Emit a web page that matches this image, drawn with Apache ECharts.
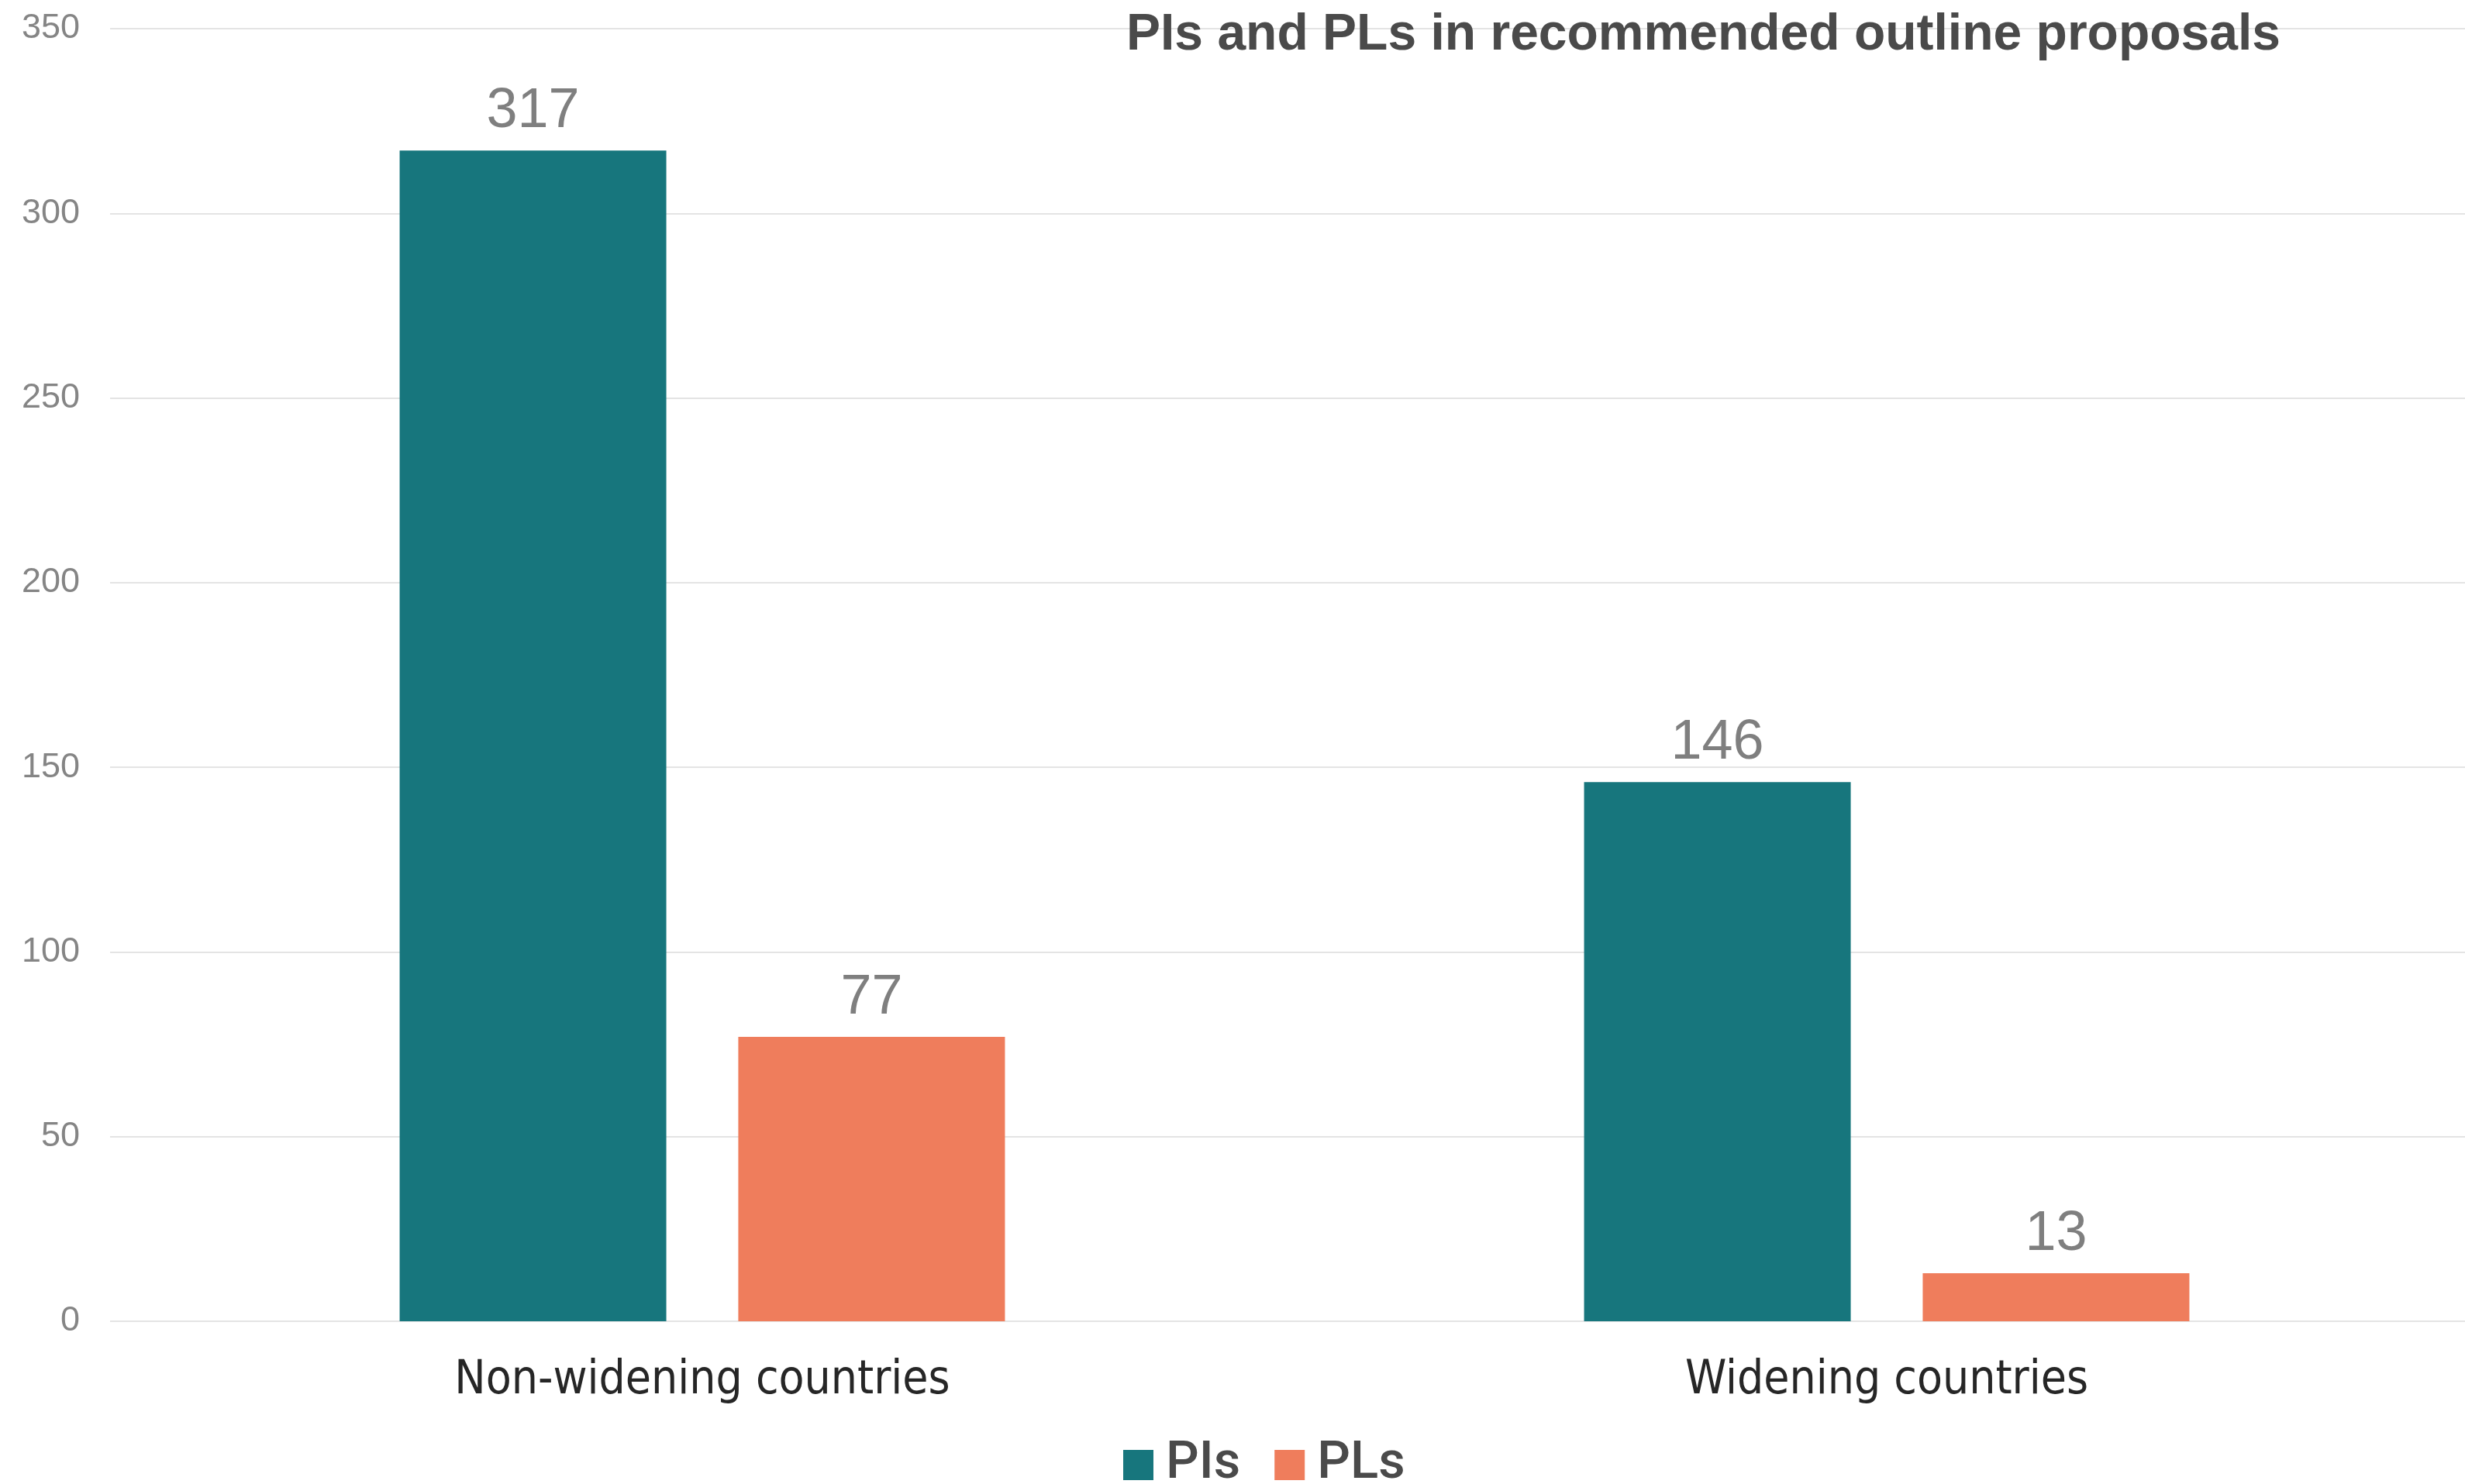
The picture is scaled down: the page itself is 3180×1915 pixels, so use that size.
<!DOCTYPE html>
<html>
<head>
<meta charset="utf-8">
<script src="https://cdn.jsdelivr.net/npm/echarts@6/dist/echarts.min.js"></script>
<style>
html,body{margin:0;padding:0;background:#fff;overflow:hidden;}
#chart{width:3198px;height:1915px;}
</style>
</head>
<body>
<div id="chart"></div>
<script>
const categories = ["Non-widening countries", "Widening countries"];
const seriesNames = ["PIs", "PLs"];
const piValues = [317, 146];
const plValues = [77, 13];
const yTicks = [0, 50, 100, 150, 200, 250, 300, 350];

const chart = echarts.init(document.getElementById('chart'), null, {renderer: 'canvas'});
const cond = '"DejaVu Sans Condensed", "Liberation Sans", sans-serif';
chart.setOption({
  animation: false,
  backgroundColor: '#ffffff',
  title: {
    text: 'PIs and PLs in recommended outline proposals',
    left: 1448,
    top: 8,
    textStyle: {fontFamily: '"Liberation Sans", Arial, sans-serif', fontWeight: 'bold', fontSize: 66, color: '#4a4a4a'}
  },
  legend: {
    data: seriesNames,
    left: 1444,
    top: 1852,
    itemWidth: 39,
    itemHeight: 39,
    itemGap: 44,
    icon: 'rect',
    textStyle: {fontFamily: 'Roboto, "Liberation Sans", sans-serif', fontWeight: 500, fontSize: 67, color: '#4a4a4a', padding: [0, 0, 0, 11]}
  },
  grid: {left: 142, right: 0, top: 37, bottom: 210, containLabel: false},
  xAxis: {
    type: 'category',
    data: categories,
    axisLine: {show: false},
    axisTick: {show: false},
    axisLabel: {margin: 47, fontFamily: cond, fontSize: 60, color: '#262626'}
  },
  yAxis: {
    type: 'value',
    min: yTicks[0],
    max: yTicks[yTicks.length - 1],
    interval: 50,
    axisLine: {show: false},
    axisTick: {show: false},
    splitLine: {lineStyle: {color: '#e4e4e4', width: 2}},
    axisLabel: {margin: 39, fontFamily: '"Liberation Sans", Arial, sans-serif', fontSize: 45, color: '#858585'}
  },
  series: [
    {
      name: seriesNames[0], type: 'bar', data: piValues, barWidth: 344, barGap: '27%',
      itemStyle: {color: '#17767d'},
      label: {show: true, position: 'top', distance: 14, fontFamily: '"Liberation Sans", Arial, sans-serif', fontSize: 72, color: '#7f7f7f'}
    },
    {
      name: seriesNames[1], type: 'bar', data: plValues, barWidth: 344, barGap: '27%',
      itemStyle: {color: '#ef7d5c'},
      label: {show: true, position: 'top', distance: 14, fontFamily: '"Liberation Sans", Arial, sans-serif', fontSize: 72, color: '#7f7f7f'}
    }
  ]
});
</script>
</body>
</html>
